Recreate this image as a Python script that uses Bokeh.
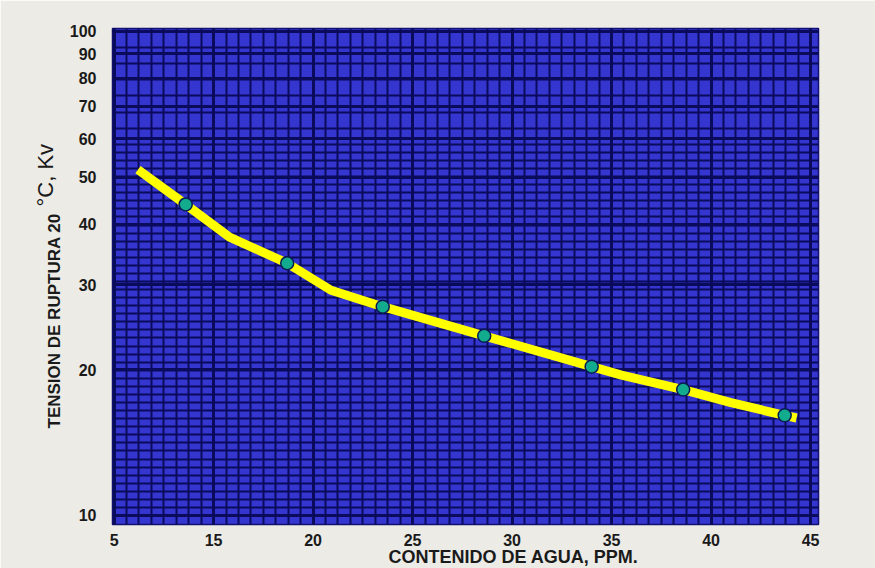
from bokeh.plotting import figure
from bokeh.models import Range1d, FixedTicker, Label
from bokeh.embed import file_html
from bokeh.resources import INLINE

# ---- data ----
x_tick_values = [10, 15, 20, 25, 30, 35, 40, 45]
x_tick_labels = ["5", "15", "20", "25", "30", "35", "40", "45"]
y_tick_values = [10, 20, 30, 40, 50, 60, 70, 80, 90, 100]
y_tick_labels = ["10", "20", "30", "40", "50", "60", "70", "80", "90", "100"]

curve_x = [11.2, 13.6, 15.8, 18.7, 20.9, 23.5, 28.6, 34.0, 35.5, 38.6, 41.0, 43.7, 44.3]
curve_y = [51.8, 43.9, 37.6, 33.2, 29.2, 27.0, 23.5, 20.3, 19.5, 18.2, 17.1, 16.1, 15.9]
marker_x = [13.6, 18.7, 23.5, 28.6, 34.0, 38.6, 43.7]
marker_y = [43.9, 33.2, 27.0, 23.5, 20.3, 18.2, 16.1]

x_title = "CONTENIDO DE AGUA, PPM."
y_title_a = "TENSION DE RUPTURA 20"
y_title_b = "°C, Kv"

# ---- styling ----
BG = "#ecebe6"
PLOT_BLUE = "#3535cf"
GRID = "#0b0b5c"
FONT = "Liberation Sans"

p = figure(width=875, height=568,
           x_range=Range1d(9.92, 45.4), y_range=Range1d(9.58, 101.4),
           y_axis_type="log", output_backend="svg", toolbar_location=None,
           min_border_left=112, min_border_right=57,
           min_border_top=28, min_border_bottom=41)

p.background_fill_color = PLOT_BLUE
p.border_fill_color = BG
p.outline_line_color = "#101070"
p.outline_line_width = 1.5

# axes
p.xaxis.ticker = FixedTicker(ticks=x_tick_values)
p.xaxis.major_label_overrides = {v: l for v, l in zip(x_tick_values, x_tick_labels)}
p.yaxis.ticker = FixedTicker(ticks=y_tick_values)
p.yaxis.major_label_overrides = {v: l for v, l in zip(y_tick_values, y_tick_labels)}
for ax in (p.xaxis, p.yaxis):
    ax.axis_line_color = None
    ax.major_tick_line_color = None
    ax.minor_tick_line_color = None
    ax.major_label_text_font = FONT
    ax.major_label_text_font_style = "bold"
    ax.major_label_text_font_size = "16px"
    ax.major_label_text_color = "#1a1a1a"
p.xaxis.major_label_standoff = 3
p.yaxis.major_label_standoff = 10

# dense "graph paper" grid
x_minor = [10 + k * 0.625 for k in range(0, 57)]
y_minor = [10 ** (1 + k / 60) for k in range(0, 47)] + [10 ** (1 + k / 30) for k in range(24, 31)]
p.xgrid.ticker = FixedTicker(ticks=x_tick_values, minor_ticks=x_minor)
p.ygrid.ticker = FixedTicker(ticks=y_tick_values, minor_ticks=y_minor)
for g in (p.xgrid, p.ygrid):
    g.grid_line_color = GRID
    g.grid_line_width = 3
    g.minor_grid_line_color = GRID
    g.minor_grid_line_width = 2

# curve and markers
p.line(curve_x, curve_y, line_color="#ffff00", line_width=9, line_join="round")
p.scatter(marker_x, marker_y, marker="circle", size=13,
          fill_color="#12ab8e", line_color="#0a1a50", line_width=1.5)

# titles (placed in side panels so they are not clipped to the frame)
p.add_layout(Label(x=276, y=2, x_units="screen", y_units="screen", text=x_title,
                   text_align="left", text_baseline="bottom",
                   text_font=FONT, text_font_style="bold", text_font_size="18px",
                   text_color="#1a1a1a"), "below")
p.add_layout(Label(x=7, y=96, x_units="screen", y_units="screen", text=y_title_a,
                   angle=1.5707963, text_align="left", text_baseline="alphabetic",
                   text_font=FONT, text_font_style="bold", text_font_size="17px",
                   text_color="#1a1a1a"), "left")
p.add_layout(Label(x=23, y=318, x_units="screen", y_units="screen", text=y_title_b,
                   angle=1.5707963, text_align="left", text_baseline="alphabetic",
                   text_font=FONT, text_font_size="22px",
                   text_color="#1a1a1a"), "left")

open("out.html", "w").write(file_html(p, INLINE))
